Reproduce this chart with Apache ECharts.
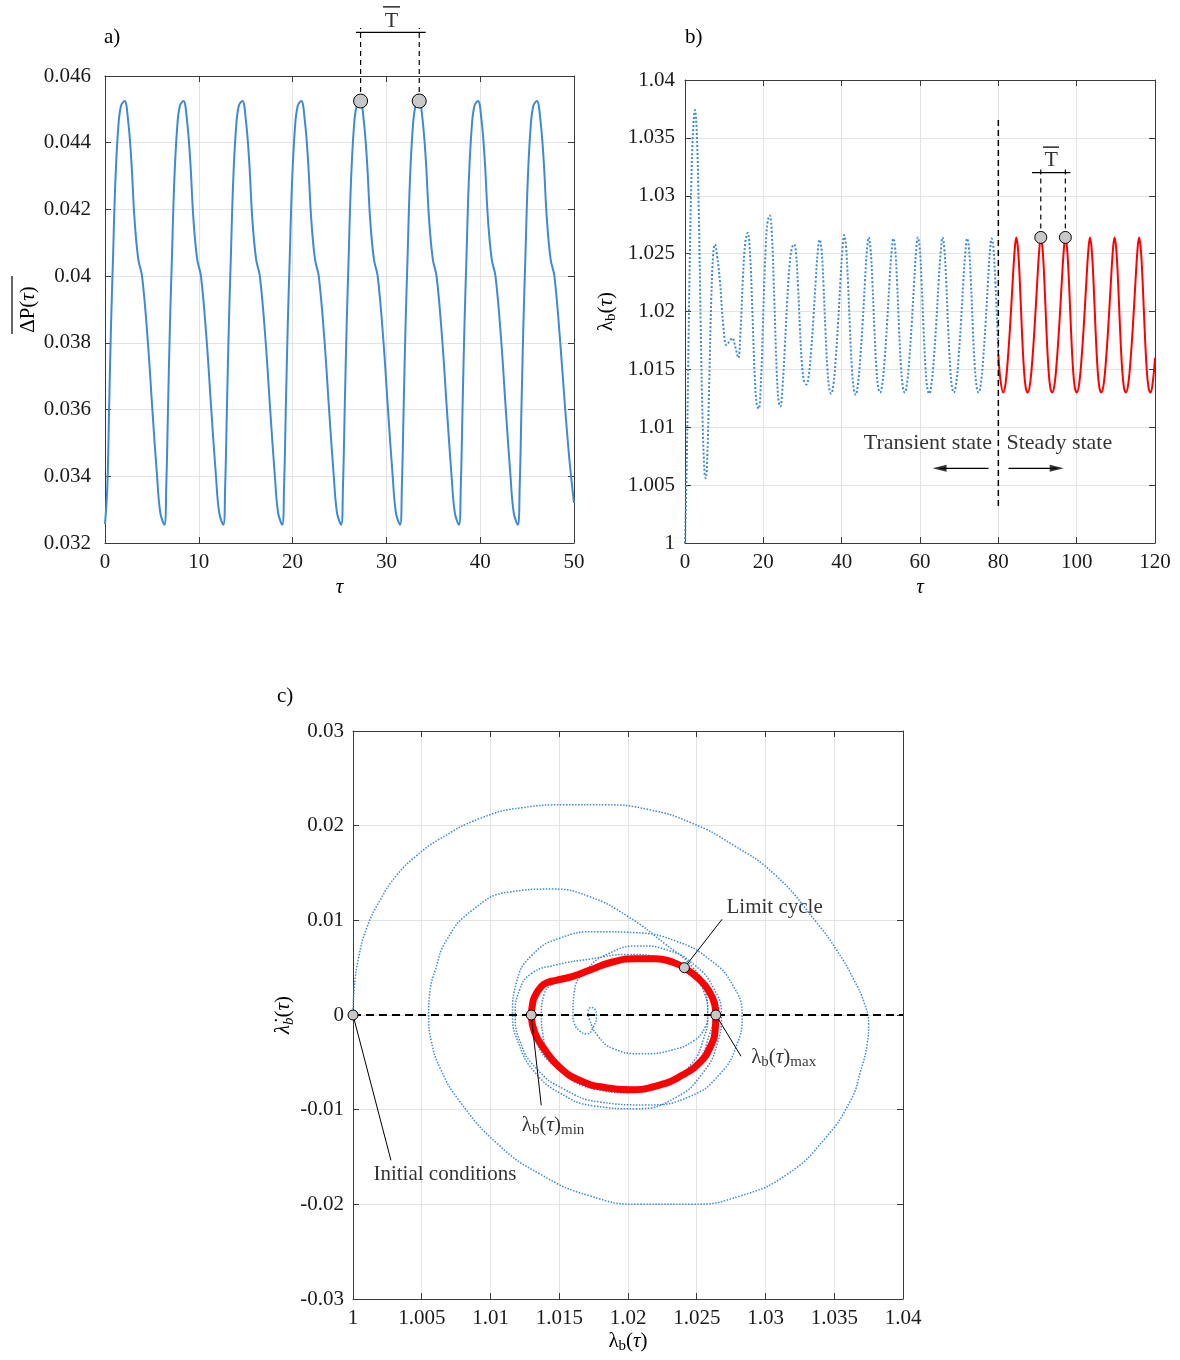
<!DOCTYPE html>
<html><head><meta charset="utf-8">
<script src="https://cdn.jsdelivr.net/npm/echarts@6/dist/echarts.min.js"></script>
<style>html,body{margin:0;padding:0;background:#fff}#c{width:1180px;height:1360px}</style>
</head><body><div id="c"></div>
<script>
// ---------- Panel a: mean pressure difference vs tau ----------
const tauA = [0,0.25,0.45,0.65,0.85,1.10,1.40,1.70,2.08,2.45,2.80,3.15,3.55,3.95,4.55,5.05,5.55,5.90,
6.33,6.53,6.73,6.93,7.13,7.38,7.68,7.98,8.36,8.73,9.08,9.43,9.83,10.23,10.83,11.33,11.83,12.18,
12.61,12.81,13.01,13.21,13.41,13.66,13.96,14.26,14.64,15.01,15.36,15.71,16.11,16.51,17.11,17.61,18.11,18.46,
18.89,19.09,19.29,19.49,19.69,19.94,20.24,20.54,20.92,21.29,21.64,21.99,22.39,22.79,23.39,23.89,24.39,24.74,
25.17,25.37,25.57,25.77,25.97,26.22,26.52,26.82,27.20,27.57,27.92,28.27,28.67,29.07,29.67,30.17,30.67,31.02,
31.45,31.65,31.85,32.05,32.25,32.50,32.80,33.10,33.48,33.85,34.20,34.55,34.95,35.35,35.95,36.45,36.95,37.30,
37.73,37.93,38.13,38.33,38.53,38.78,39.08,39.38,39.76,40.13,40.48,40.83,41.23,41.63,42.23,42.73,43.23,43.58,
44.01,44.21,44.41,44.61,44.81,45.06,45.36,45.66,46.04,46.41,46.76,47.11,47.51,47.91,48.51,49.01,49.51,50.0];
const dPA = [0.03257,0.0337,0.0362,0.0386,0.0405,0.0428,0.0444,0.0451,0.04525,0.0447,0.0435,0.0417,0.0405,0.0400,0.0381,0.0360,0.0340,0.0329,
0.03255,0.0337,0.0362,0.0386,0.0405,0.0428,0.0444,0.0451,0.04525,0.0447,0.0435,0.0417,0.0405,0.0400,0.0381,0.0360,0.0340,0.0329,
0.03255,0.0337,0.0362,0.0386,0.0405,0.0428,0.0444,0.0451,0.04525,0.0447,0.0435,0.0417,0.0405,0.0400,0.0381,0.0360,0.0340,0.0329,
0.03255,0.0337,0.0362,0.0386,0.0405,0.0428,0.0444,0.0451,0.04525,0.0447,0.0435,0.0417,0.0405,0.0400,0.0381,0.0360,0.0340,0.0329,
0.03255,0.0337,0.0362,0.0386,0.0405,0.0428,0.0444,0.0451,0.04525,0.0447,0.0435,0.0417,0.0405,0.0400,0.0381,0.0360,0.0340,0.0329,
0.03255,0.0337,0.0362,0.0386,0.0405,0.0428,0.0444,0.0451,0.04525,0.0447,0.0435,0.0417,0.0405,0.0400,0.0381,0.0360,0.0340,0.0329,
0.03255,0.0337,0.0362,0.0386,0.0405,0.0428,0.0444,0.0451,0.04525,0.0447,0.0435,0.0417,0.0405,0.0400,0.0381,0.0360,0.0340,0.0329,
0.03255,0.0337,0.0362,0.0386,0.0405,0.0428,0.0444,0.0451,0.04525,0.0447,0.0435,0.0417,0.0405,0.0400,0.0381,0.0362,0.0345,0.0332];
const ticksAx = [0,10,20,30,40,50];
const ticksAy = [0.032,0.034,0.036,0.038,0.040,0.042,0.044,0.046];
const peaksA = [[27.25,0.04525],[33.5,0.04525]];
const bracketA = {y:0.04731, x0:26.76, x1:34.19, top:0.04744, label:[30.54,0.04763], over:[29.64,31.45,0.04807]};

// ---------- Panel b: lambda_b vs tau ----------
const tauB = [0,0.4,0.8,1.2,1.6,2.0,2.55,3.0,3.5,4.0,4.5,5.0,5.3,5.7,6.2,6.7,7.2,7.65,8.2,8.9,
9.8,10.6,11.5,12.1,12.8,13.6,14.2,14.8,15.4,16.0,16.6,17.2,17.8,18.3,18.8,19.4,20.0,20.6,21.1,21.65,
22.2,22.8,23.4,23.9,24.35,24.9,25.5,26.1,26.7,27.3,27.9,
28.35,28.85,29.35,29.85,30.4,31.0, 31.6,32.2,32.8,33.4,33.9,34.4, 34.85,35.35,35.85,36.35,36.85,37.3,
37.9,38.5,39.1,39.7,40.2,40.65, 41.1,41.6,42.1,42.6,43.1,43.55, 44.15,44.75,45.35,45.95,46.45,46.9,
47.35,47.85,48.35,48.85,49.35,49.8, 50.4,51.0,51.6,52.2,52.75,53.2, 53.65,54.15,54.65,55.15,55.65,56.1,
56.7,57.3,57.9,58.5,59.0,59.45, 59.9,60.4,60.9,61.4,61.9,62.35, 62.95,63.55,64.15,64.75,65.3,65.75,
66.2,66.7,67.2,67.7,68.2,68.65, 69.25,69.85,70.45,71.05,71.6,72.05, 72.5,73.0,73.5,74.0,74.5,74.95,
75.55,76.15,76.75,77.35,77.85,78.3, 78.75,79.25,79.75,80.0];
const lamB = [1.0000,1.0060,1.0150,1.0240,1.0310,1.0352,1.0374,1.0355,1.0290,1.0190,1.0105,1.0060,1.0056,1.0075,1.0140,1.0210,1.0250,1.0258,1.0248,1.0227,
1.0187,1.0171,1.0175,1.0177,1.0170,1.0160,1.0185,1.0230,1.0260,1.0268,1.0250,1.0200,1.0145,1.0120,1.0116,1.0140,1.0200,1.0255,1.0278,1.0283,
1.0265,1.0210,1.0150,1.0122,1.0118,1.0135,1.0170,1.0210,1.0240,1.0255,1.0258,
1.0250,1.0222,1.0185,1.0155,1.0140,1.0137, 1.0145,1.0166,1.0195,1.0228,1.0252,1.0262, 1.0254,1.0224,1.0184,1.0151,1.0133,1.0129,
1.0137,1.0160,1.0191,1.0227,1.0254,1.0266, 1.0257,1.0226,1.0186,1.0152,1.0133,1.0128, 1.0137,1.0160,1.0190,1.0226,1.0253,1.0264,
1.0255,1.0225,1.0185,1.0152,1.0134,1.0130, 1.0138,1.0160,1.0190,1.0225,1.0252,1.0263, 1.0255,1.0225,1.0185,1.0152,1.0134,1.0130,
1.0138,1.0160,1.0190,1.0225,1.0252,1.0264, 1.0256,1.0226,1.0186,1.0152,1.0133,1.0129, 1.0138,1.0160,1.0190,1.0225,1.0252,1.0264,
1.0255,1.0225,1.0185,1.0152,1.0134,1.0130, 1.0138,1.0160,1.0190,1.0225,1.0252,1.0263, 1.0255,1.0225,1.0185,1.0152,1.0134,1.0130,
1.0138,1.0160,1.0190,1.0225,1.0252,1.0263, 1.0255,1.0225,1.0185,1.0165];
const tauR = [80.0,80.5,
81.25,81.85,82.45,83.05,83.65,84.15,84.57,85.00,85.50,86.00,86.50,87.00,
87.52,88.12,88.72,89.32,89.92,90.42,90.84,91.27,91.77,92.27,92.77,93.27,
93.79,94.39,94.99,95.59,96.19,96.69,97.11,97.54,98.04,98.54,99.04,99.54,
100.06,100.66,101.26,101.86,102.46,102.96,103.38,103.81,104.31,104.81,105.31,105.81,
106.33,106.93,107.53,108.13,108.73,109.23,109.65,110.08,110.58,111.08,111.58,112.08,
112.60,113.20,113.80,114.40,115.00,115.50,115.92,116.35,116.85,117.35,117.85,118.35,
118.87,119.47,120.0];
const lamR = [1.0163,1.0142,
1.0130,1.0138,1.0160,1.0190,1.0225,1.0252,1.0264,1.0255,1.0225,1.0185,1.0152,1.0134,
1.0130,1.0138,1.0160,1.0190,1.0225,1.0252,1.0264,1.0255,1.0225,1.0185,1.0152,1.0134,
1.0130,1.0138,1.0160,1.0190,1.0225,1.0252,1.0264,1.0255,1.0225,1.0185,1.0152,1.0134,
1.0130,1.0138,1.0160,1.0190,1.0225,1.0252,1.0264,1.0255,1.0225,1.0185,1.0152,1.0134,
1.0130,1.0138,1.0160,1.0190,1.0225,1.0252,1.0264,1.0255,1.0225,1.0185,1.0152,1.0134,
1.0130,1.0138,1.0160,1.0190,1.0225,1.0252,1.0264,1.0255,1.0225,1.0185,1.0152,1.0134,
1.0130,1.0140,1.0160];
const ticksBx = [0,20,40,60,80,100,120];
const ticksBy = [1,1.005,1.01,1.015,1.02,1.025,1.03,1.035,1.04];
const peaksB = [[90.84,1.0264],[97.11,1.0264]];
const bracketB = {y:1.0320, x0:88.6, x1:98.4, top:1.0325, label:[93.5,1.03305], over:[91.4,95.5,1.0342]};
const splitB = {x:80, y0:1.0032, y1:1.0368};
const stateTextB = {transient:[78.5,1.00864], steady:[81.96,1.00864]};
const arrowsB = {y:1.00645, left:[77.5,65.0], right:[82.6,94.9]};

// ---------- Panel c: phase portrait ----------
const phL = [1.0000,1.0001,1.0004,1.0010,1.0020,1.0032,1.0046,1.0062,1.0093,1.0123,1.0154,1.0184,1.0215,1.0246,1.0276,1.0307,1.0337,1.0352,1.0364,1.0372,1.0375,
1.0374,1.0369,1.0362,1.0343,1.0316,1.0282,1.0246,1.0209,1.0172,1.0136,1.0105,1.0077,1.0064,1.0057,1.0055,
1.0056,1.0060,1.0068,1.0087,1.0114,1.0145,1.0172,1.0200,1.0227,1.0246,1.0256,1.0258,
1.0256,1.0248,1.0232,1.0210,1.0190,1.0178,1.0172,
1.0171,1.0173,1.0176,1.0177,1.0175,1.0170,1.0165,1.0161,1.0160,
1.0161,1.0170,1.0186,1.0208,1.0230,1.0249,1.0262,1.0268,
1.0265,1.0255,1.0235,1.0205,1.0175,1.0150,1.0132,1.0121,1.0116,
1.0119,1.0130,1.0150,1.0178,1.0205,1.0235,1.0260,1.0276,1.0283,
1.0279,1.0267,1.0245,1.0213,1.0180,1.0153,1.0133,1.0122,1.0118,
1.0121,1.0130,1.0148,1.0172,1.0200,1.0225,1.0244,1.0255,1.0258,
1.0255,1.0246,1.0228,1.0200,1.0175,1.0155,1.0143,1.0138,1.0137,
1.0139,1.0146,1.0160,1.0178,1.0200,1.0222,1.0242,1.0256,1.0262,
1.0259,1.0250,1.0232,1.0205,1.0180,1.0158,1.0142,1.0132,1.0129,
1.0131,1.0138,1.0150,1.0165,1.0185,1.0210,1.0235,1.0255,1.0266,
1.0264,1.0257,1.0240,1.0215,1.0190,1.0165,1.0145,1.0133,1.0128];
const phD = [0.0000,0.0030,0.0060,0.0092,0.0122,0.0148,0.0168,0.0185,0.0208,0.0219,0.0222,0.0222,0.0217,0.0203,0.0180,0.0148,0.0098,0.0068,0.0038,0.0012,-0.0010,
-0.0030,-0.0060,-0.0090,-0.0131,-0.0168,-0.0191,-0.0200,-0.0200,-0.0191,-0.0168,-0.0136,-0.0090,-0.0058,-0.0028,0.0000,
0.0025,0.0048,0.0079,0.0111,0.0130,0.0133,0.0125,0.0104,0.0075,0.0052,0.0027,0.0000,
-0.0013,-0.0027,-0.0037,-0.0041,-0.0036,-0.0022,-0.0005,
0.0002,0.0008,0.0006,0.0000,-0.0012,-0.0020,-0.0017,-0.0009,0.0000,
0.0025,0.0048,0.0065,0.0073,0.0068,0.0052,0.0029,0.0000,
-0.0030,-0.0060,-0.0087,-0.0099,-0.0096,-0.0082,-0.0060,-0.0032,0.0000,
0.0035,0.0063,0.0081,0.0088,0.0087,0.0078,0.0058,0.0032,0.0000,
-0.0032,-0.0062,-0.0086,-0.0095,-0.0092,-0.0078,-0.0056,-0.0030,0.0000,
0.0026,0.0044,0.0053,0.0059,0.0064,0.0060,0.0046,0.0025,0.0000,
-0.0025,-0.0052,-0.0072,-0.0082,-0.0078,-0.0064,-0.0042,-0.0020,0.0000,
0.0022,0.0033,0.0040,0.0049,0.0059,0.0061,0.0051,0.0028,0.0000,
-0.0022,-0.0050,-0.0069,-0.0080,-0.0078,-0.0066,-0.0046,-0.0022,0.0000,
0.0020,0.0031,0.0037,0.0042,0.0053,0.0060,0.0054,0.0034,0.0000,
-0.0018,-0.0040,-0.0063,-0.0078,-0.0079,-0.0070,-0.0052,-0.0028,0.0000];
const lcL = [1.01296,1.01305,1.0132,1.01369,1.01420,1.01477,1.01598,1.01718,1.01887,1.02055,1.0220,1.0232,1.0241,1.02513,1.02586,1.02629,1.02639,
1.02634,1.02598,1.02525,1.02393,1.02224,1.02007,1.01839,1.01646,1.01501,1.01381,1.0132,1.01296];
const lcD = [0,0.0011,0.0019,0.0030,0.00345,0.00366,0.00408,0.00472,0.0056,0.00595,0.00595,0.0056,0.0050,0.00384,0.0026,0.0012,0,
-0.00162,-0.00338,-0.00496,-0.00637,-0.00743,-0.00789,-0.00768,-0.0069,-0.0055,-0.00338,-0.0018,0];
const ticksCx = [1,1.005,1.01,1.015,1.02,1.025,1.03,1.035,1.04];
const ticksCy = [-0.03,-0.02,-0.01,0,0.01,0.02,0.03];
const marksC = [[1,0],[1.01296,0],[1.02639,0],[1.0241,0.0050]];
const leadersC = [[[1.0241,0.0050],[1.02684,0.01011]],[[1.02639,0],[1.02822,-0.00436]],[[1.01296,0],[1.01369,-0.00954]],[[1,0],[1.00276,-0.01535]]];
const textsC = {limit:[1.02713,0.01132], max:[1.02892,-0.00449], min:[1.01455,-0.01165], init:[1.00145,-0.01684]};

// ---------- build ----------
const F = '"Liberation Serif","Times New Roman",Times,serif';
const TXT = '#000', TICK = '#1a1a1a', AX = '#3a3a3a', BLUE = '#3f8ad4', RED = '#ff0000';
const zip = (a, b) => a.map((v, i) => [v, b[i]]);
const R = {
  n:{fontFamily:F,fontSize:21,color:TXT},
  i:{fontFamily:F,fontSize:21,color:TXT,fontStyle:'italic'},
  s:{fontFamily:F,fontSize:15,color:TXT,padding:[10,0,0,0]},
  si:{fontFamily:F,fontSize:15,color:TXT,fontStyle:'italic',padding:[10,0,0,0]}
};
function mainAxis(gi,pos,t,margin,extra){
  return Object.assign({type:'value',gridIndex:gi,position:pos,min:t[0],max:t[t.length-1],interval:+(t[1]-t[0]).toFixed(6),
    axisLine:{show:true,onZero:false,lineStyle:{color:AX,width:1}},
    axisTick:{show:true,inside:true,length:6,lineStyle:{color:AX}},
    splitLine:{show:true,lineStyle:{color:'#e3e3e3',width:1}},
    axisLabel:{show:true,color:TICK,fontFamily:F,fontSize:21,margin:margin}},extra||{});
}
function boxAxis(gi,pos,t){
  return {type:'value',gridIndex:gi,position:pos,min:t[0],max:t[t.length-1],interval:+(t[1]-t[0]).toFixed(6),
    axisLine:{show:true,onZero:false,lineStyle:{color:AX,width:1}},
    axisTick:{show:true,inside:true,length:6,lineStyle:{color:AX}},
    splitLine:{show:false},axisLabel:{show:false}};
}
function seg(xi,yi,pts,style,z){
  return {type:'line',xAxisIndex:xi,yAxisIndex:yi,data:pts,symbol:'none',clip:false,silent:true,z:z||4,
    lineStyle:Object.assign({color:'#000',width:1.2},style)};
}
function txt(xi,yi,pt,fmt,pos,fs){
  return {type:'scatter',xAxisIndex:xi,yAxisIndex:yi,clip:false,silent:true,symbolSize:1,z:6,
    itemStyle:{color:'transparent'},
    data:[{value:pt,label:{show:true,position:pos,distance:0,formatter:fmt,color:TXT,fontFamily:F,fontSize:fs||21,rich:R}}]};
}
function marks(xi,yi,pts,size){
  return {type:'scatter',xAxisIndex:xi,yAxisIndex:yi,data:pts,symbolSize:size,z:7,silent:true,clip:false,
    itemStyle:{color:'#c8c8c8',borderColor:'#000',borderWidth:1,opacity:1}};
}

const series = [];
// a
series.push({type:'line',xAxisIndex:0,yAxisIndex:0,data:zip(tauA,dPA),smooth:0.4,symbol:'none',
  lineStyle:{color:BLUE,width:2},z:3});
peaksA.forEach(p=>series.push(seg(0,0,[p,[p[0],bracketA.top]],{type:[5,4]})));
series.push(seg(0,0,[[bracketA.x0,bracketA.y],[bracketA.x1,bracketA.y]],{}));
series.push(seg(0,0,[[bracketA.over[0],bracketA.over[2]],[bracketA.over[1],bracketA.over[2]]],{}));
series.push(txt(0,0,bracketA.label,'T','inside',22));
series.push(marks(0,0,peaksA,14));
// b
series.push({type:'line',xAxisIndex:2,yAxisIndex:2,data:zip(tauB,lamB),smooth:0.4,symbol:'none',
  lineStyle:{color:BLUE,width:2,type:[2,2]},z:3});
series.push({type:'line',xAxisIndex:2,yAxisIndex:2,data:zip(tauR,lamR),smooth:0.4,symbol:'none',
  lineStyle:{color:RED,width:2},z:3});
series.push(seg(2,2,[[splitB.x,splitB.y0],[splitB.x,splitB.y1]],{type:[6,4],width:1.5}));
peaksB.forEach(p=>series.push(seg(2,2,[p,[p[0],bracketB.top]],{type:[5,4]})));
series.push(seg(2,2,[[bracketB.x0,bracketB.y],[bracketB.x1,bracketB.y]],{}));
series.push(seg(2,2,[[bracketB.over[0],bracketB.over[2]],[bracketB.over[1],bracketB.over[2]]],{}));
series.push(txt(2,2,bracketB.label,'T','inside',22));
series.push(marks(2,2,peaksB,12));
series.push(txt(2,2,stateTextB.transient,'Transient state','left',22));
series.push(txt(2,2,stateTextB.steady,'Steady state','right',22));
series.push(seg(2,2,[[arrowsB.left[0],arrowsB.y],[arrowsB.left[1],arrowsB.y]],{}));
series.push(seg(2,2,[[arrowsB.right[0],arrowsB.y],[arrowsB.right[1],arrowsB.y]],{}));
series.push({type:'scatter',xAxisIndex:2,yAxisIndex:2,silent:true,symbol:'triangle',symbolSize:[7,14],z:6,
  itemStyle:{color:'#000'},data:[{value:[arrowsB.left[1],arrowsB.y],symbolRotate:90},{value:[arrowsB.right[1],arrowsB.y],symbolRotate:-90}]});
// c
series.push({type:'line',xAxisIndex:4,yAxisIndex:4,data:zip(phL,phD),smooth:0.5,symbol:'none',
  lineStyle:{color:BLUE,width:1.5,type:[1.5,1.5]},z:3});
series.push({type:'line',xAxisIndex:4,yAxisIndex:4,data:zip(lcL,lcD),smooth:0.5,symbol:'none',
  lineStyle:{color:RED,width:7},z:4});
series.push(seg(4,4,[[ticksCx[0],0],[ticksCx[ticksCx.length-1],0]],{type:[8,5],width:2},5));
leadersC.forEach(l=>series.push(seg(4,4,l,{width:1},5)));
series.push(marks(4,4,marksC,10));
series.push(txt(4,4,textsC.limit,'Limit cycle','right',21));
series.push(txt(4,4,textsC.max,'{n|λ}{s|b}{n|(}{i|τ}{n|)}{s|max}','right',21));
series.push(txt(4,4,textsC.min,'{n|λ}{s|b}{n|(}{i|τ}{n|)}{s|min}','inside',21));
series.push(txt(4,4,textsC.init,'Initial conditions','right',21));

const option = {
  animation:false,
  backgroundColor:'#fff',
  title:[
    {text:'a)',left:104,top:27,padding:0,textStyle:{fontFamily:F,fontSize:21,fontWeight:'normal',color:TXT}},
    {text:'b)',left:685,top:27,padding:0,textStyle:{fontFamily:F,fontSize:21,fontWeight:'normal',color:TXT}},
    {text:'c)',left:277,top:686,padding:0,textStyle:{fontFamily:F,fontSize:21,fontWeight:'normal',color:TXT}}
  ],
  grid:[
    {left:105,top:76,width:469,height:467},
    {left:685,top:80,width:470,height:463},
    {left:353,top:731,width:550,height:568}
  ],
  xAxis:[
    mainAxis(0,'bottom',ticksAx,9,{name:'{i|τ}',nameLocation:'middle',nameGap:34,nameTextStyle:{rich:R}}),
    boxAxis(0,'top',ticksAx),
    mainAxis(1,'bottom',ticksBx,9,{name:'{i|τ}',nameLocation:'middle',nameGap:34,nameTextStyle:{rich:R}}),
    boxAxis(1,'top',ticksBx),
    mainAxis(2,'bottom',ticksCx,9,{name:'{n|λ}{s|b}{n|(}{i|τ}{n|)}',nameLocation:'middle',nameGap:30,nameTextStyle:{rich:R}}),
    boxAxis(2,'top',ticksCx)
  ],
  yAxis:[
    mainAxis(0,'left',ticksAy,14,{name:'{n|ΔP(}{i|τ}{n|)}',nameLocation:'middle',nameGap:66,nameRotate:90,nameTextStyle:{rich:R}}),
    boxAxis(0,'right',ticksAy),
    mainAxis(1,'left',ticksBy,10,{name:'{n|λ}{s|b}{n|(}{i|τ}{n|)}',nameLocation:'middle',nameGap:66,nameRotate:90,nameTextStyle:{rich:R}}),
    boxAxis(1,'right',ticksBy),
    mainAxis(2,'left',ticksCy,9,{name:'{i|λ\u0307}{si|b}{n|(}{i|τ}{n|)}',nameLocation:'middle',nameGap:50,nameRotate:90,nameTextStyle:{rich:R}}),
    boxAxis(2,'right',ticksCy)
  ],
  graphic:[{type:'line',shape:{x1:12,y1:276,x2:12,y2:334},style:{stroke:'#000',lineWidth:1.2},silent:true}],
  series:series
};
const chart = echarts.init(document.getElementById('c'),null,{renderer:'canvas'});
chart.setOption(option);
</script></body></html>
